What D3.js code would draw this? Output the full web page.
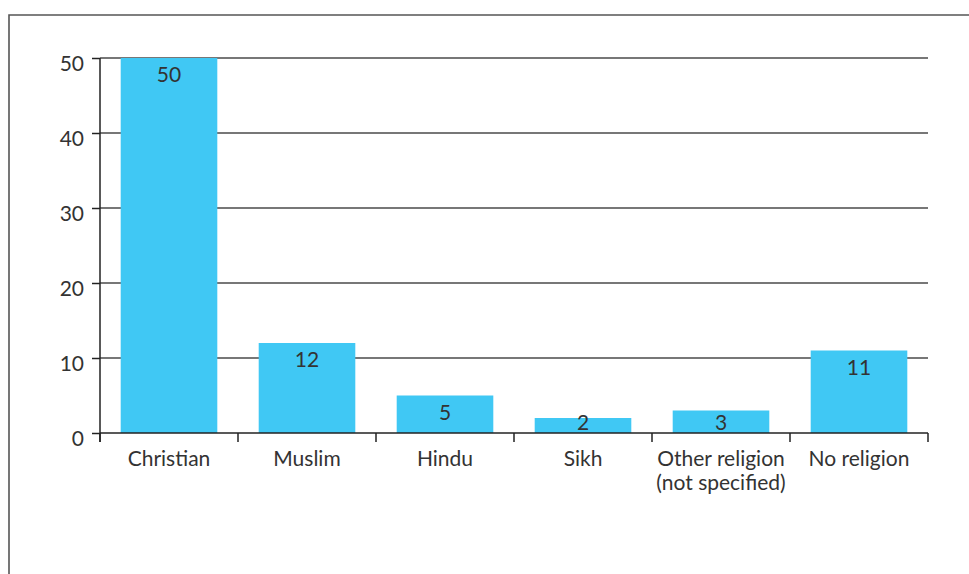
<!DOCTYPE html>
<html>
<head>
<meta charset="utf-8">
<script src="https://cdn.jsdelivr.net/npm/d3@7"></script>
<style>
  html, body { margin: 0; padding: 0; background: #fff; }
  svg { display: block; }
  text { font-family: Lato, "Open Sans", sans-serif; fill: #333; font-weight: 400; }
</style>
</head>
<body>
<svg id="chart" width="969" height="574"></svg>
<script>
// Religion of respondents (%)
const categories = ["Christian", "Muslim", "Hindu", "Sikh", "Other religion\n(not specified)", "No religion"];
const values = [50, 12, 5, 2, 3, 11];
const yTicks = [0, 10, 20, 30, 40, 50];

const W = 969, H = 574;
const margin = { top: 58, left: 100, right: 41, bottom: 141 };
const FONT = 21;
const svg = d3.select("#chart");

// outer frame (top and left edges)
svg.append("path")
  .attr("d", `M9,${H}V15H${W}`)
  .attr("fill", "none")
  .attr("stroke", "#555")
  .attr("stroke-width", 1.6);

const x = d3.scaleBand()
  .domain(categories)
  .range([margin.left, W - margin.right])
  .paddingInner(0.3)
  .paddingOuter(0.15);

const y = d3.scaleLinear()
  .domain([0, 50])
  .range([H - margin.bottom, margin.top]);

// horizontal gridlines
svg.append("g")
  .selectAll("line")
  .data(yTicks.filter(d => d > 0))
  .join("line")
  .attr("x1", margin.left)
  .attr("x2", W - margin.right)
  .attr("y1", d => y(d))
  .attr("y2", d => y(d))
  .attr("stroke", "#4a4a4a")
  .attr("stroke-width", 1.5);

// bars
svg.append("g")
  .selectAll("rect")
  .data(values)
  .join("rect")
  .attr("x", (d, i) => x(categories[i]))
  .attr("width", x.bandwidth())
  .attr("y", d => y(d))
  .attr("height", d => y(0) - y(d))
  .attr("fill", "#40c8f4");

// value labels inside the bars
svg.append("g")
  .selectAll("text")
  .data(values)
  .join("text")
  .attr("x", (d, i) => x(categories[i]) + x.bandwidth() / 2)
  .attr("y", d => Math.min(y(d) + 24, y(0) - 3))
  .attr("text-anchor", "middle")
  .attr("font-size", FONT)
  .text(d => d);

// y axis
const yAxis = d3.axisLeft(y).tickValues(yTicks).tickSize(8).tickPadding(8);
const gy = svg.append("g")
  .attr("transform", `translate(${margin.left},0)`)
  .call(yAxis);
gy.select(".domain").remove();
gy.selectAll(".tick line").attr("stroke", "#222").attr("stroke-width", 1.5);
gy.selectAll(".tick text")
  .attr("font-size", FONT)
  .attr("font-family", "Lato, 'Open Sans', sans-serif")
  .attr("fill", "#333")
  .attr("dy", "0.58em");

// y axis line, extending down to the category tick length
svg.append("line")
  .attr("x1", margin.left).attr("x2", margin.left)
  .attr("y1", y(50)).attr("y2", y(0) + 9)
  .attr("stroke", "#222").attr("stroke-width", 1.5);

// x axis baseline
svg.append("line")
  .attr("x1", margin.left).attr("x2", W - margin.right)
  .attr("y1", y(0)).attr("y2", y(0))
  .attr("stroke", "#222").attr("stroke-width", 1.5);

// category boundary ticks
const step = x.step();
const bounds = d3.range(categories.length + 1).map(i => margin.left + i * step);
svg.append("g")
  .selectAll("line")
  .data(bounds)
  .join("line")
  .attr("x1", d => d).attr("x2", d => d)
  .attr("y1", y(0)).attr("y2", y(0) + 9)
  .attr("stroke", "#222").attr("stroke-width", 1.5);

// category labels
const labels = svg.append("g")
  .selectAll("text")
  .data(categories)
  .join("text")
  .attr("x", d => x(d) + x.bandwidth() / 2)
  .attr("y", y(0) + 33)
  .attr("text-anchor", "middle")
  .attr("font-size", FONT);
labels.each(function(d) {
  const t = d3.select(this);
  d.split("\n").forEach((line, i) => {
    t.append("tspan")
      .attr("x", x(d) + x.bandwidth() / 2)
      .attr("dy", i === 0 ? 0 : 24)
      .text(line);
  });
});
</script>
</body>
</html>
